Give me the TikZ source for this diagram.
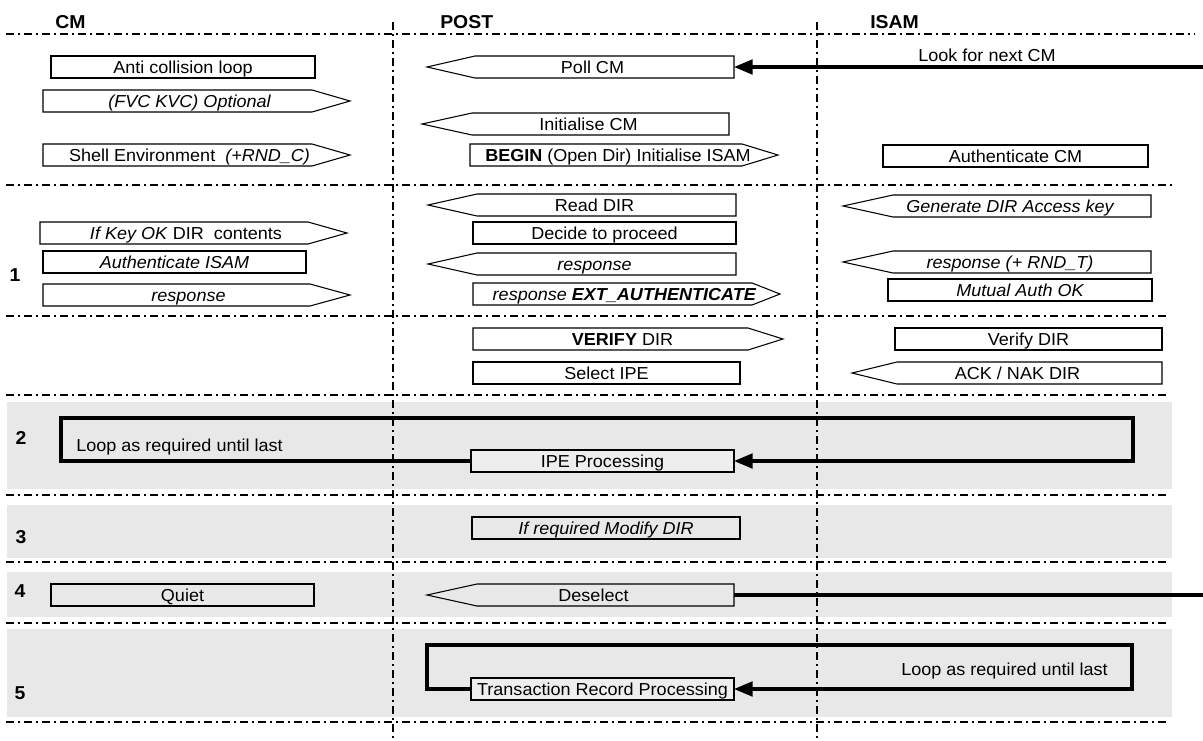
\documentclass[tikz,border=0pt]{standalone}
\usepackage{fontspec}
\setmainfont{Liberation Sans}[FakeStretch=1.04]
\usetikzlibrary{arrows.meta}
\definecolor{bandgray}{RGB}{232,232,232}
\definecolor{boxgray}{RGB}{238,238,238}
\tikzset{
  outl/.style={draw=black, line width=0.8pt},
  body/.style={minimum height=16.5pt, inner sep=0pt, outer sep=0pt, text height=9.6pt, text depth=0pt},
  txt/.style={inner sep=0pt, text height=9.6pt, text depth=0pt},
  sepline/.style={line width=1.1pt, dash pattern=on 6pt off 3pt on 1.5pt off 3pt},
  loopline/.style={line width=2.4pt},
  tiphead/.style={-{Triangle[length=14pt,width=11pt]}},
  band/.style={fill=bandgray, draw=none},
  hdr/.style={font=\bfseries\fontsize{14}{16}\selectfont, inner sep=0pt},
}
\newcommand\RBox[5]{%
  \node[outl, body, minimum width={(#3-#2)*0.75pt}] (#1) at ({(#2+#3)/2},#4) {#5};}
\newcommand\RArr[6]{%
  \node[body, minimum width={(#3-#2)*0.75pt}] (#1) at ({(#2+#3)/2},#5) {};
  \draw[outl] (#1.north west) -- (#1.north east) -- (#4,#5) -- (#1.south east) -- (#1.south west) -- cycle;
  \node[txt] (#1-t) at ([xshift=9pt]#1.center) {#6};}
\newcommand\LArr[6]{%
  \node[body, minimum width={(#4-#3)*0.75pt}] (#1) at ({(#3+#4)/2},#5) {};
  \draw[outl] (#1.north east) -- (#1.north west) -- (#2,#5) -- (#1.south west) -- (#1.south east) -- cycle;
  \node[txt] (#1-t) at ([xshift=-9pt]#1.center) {#6};}
\begin{document}
\begin{tikzpicture}[x=0.75pt,y=-0.75pt,font=\fontsize{13}{15}\selectfont]
\useasboundingbox (0,0) rectangle (1203,740);
% shaded bands
\fill[band] (7,402) rectangle (1172,489);
\fill[band] (7,505) rectangle (1172,558);
\fill[band] (7,572) rectangle (1172,617);
\fill[band] (7,629) rectangle (1172,717);
% separators
\draw[sepline] (6,34) -- (1195,34);
\draw[sepline] (6,185) -- (1172,185);
\draw[sepline] (6,316) -- (1168,316);
\draw[sepline] (6,395) -- (1170,395);
\draw[sepline] (6,495) -- (1170,495);
\draw[sepline] (6,562) -- (1170,562);
\draw[sepline] (6,623) -- (1170,623);
\draw[sepline] (6,722) -- (1170,722);
\draw[sepline] (393,22) -- (393,740);
\draw[sepline] (817,22) -- (817,740);
% headers
\node[hdr, anchor=west] (hcm) at (55,22) {CM};
\node[hdr, anchor=west] (hpost) at (440,22) {POST};
\node[hdr, anchor=west] (hisam) at (870,22) {ISAM};
\node[hdr] (n1) at (15,275) {1};
\node[hdr] (n2) at (21,438) {2};
\node[hdr] (n3) at (21,537) {3};
\node[hdr] (n4) at (20,591) {4};
\node[hdr] (n5) at (20,693) {5};
% initial rows
\RBox{anti}{51}{315}{67}{Anti collision loop}
\LArr{poll}{427}{475}{734}{67}{Poll CM}
\RArr{fvc}{43}{312}{350}{101}{\itshape (FVC KVC) Optional}
\LArr{initcm}{422}{472}{729}{124}{Initialise CM}
\RArr{shell}{43}{312}{350}{155}{Shell Environment~~\itshape(+RND\_C)}
\RArr{begin}{470}{742}{778}{155}{\textbf{BEGIN} (Open Dir) Initialise ISAM}
\RBox{authcm}{883}{1148}{156}{Authenticate CM}
\node[txt] (look) at (987,55) {Look for next CM};
\coordinate (r1) at (1203,67);
\draw[loopline, tiphead] (r1) -- (poll.east);
% section 1
\RArr{ifkey}{40}{308}{347}{233}{\textit{If Key OK} DIR~~contents}
\RBox{authisam}{43}{306}{262}{\itshape Authenticate ISAM}
\RArr{resp1}{43}{310}{350}{295}{\itshape response}
\LArr{readdir}{428}{477}{736}{205}{Read DIR}
\RBox{decide}{473}{736}{233}{Decide to proceed}
\LArr{resp2}{428}{477}{736}{264}{\itshape response}
\RArr{respext}{473}{752}{780}{294}{\textit{response \textbf{EXT\_AUTHENTICATE}}}
\LArr{genkey}{843}{893}{1151}{206}{\itshape Generate DIR Access key}
\LArr{resprnd}{843}{893}{1151}{262}{\itshape response (+ RND\_T)}
\RBox{mutual}{888}{1152}{290}{\itshape Mutual Auth OK}
% verify section
\RArr{verify}{473}{748}{783}{339}{\textbf{VERIFY} DIR}
\RBox{selipe}{473}{740}{373}{Select IPE}
\RBox{verifydir}{895}{1162}{339}{Verify DIR}
\LArr{ack}{852}{897}{1162}{373}{ACK / NAK DIR}
% section 2
\node[outl, body, fill=boxgray, minimum width={263*0.75pt}] (ipe) at (602.5,461) {IPE Processing};
\coordinate (l2a) at (61,418);
\coordinate (l2b) at (1133,418);
\draw[loopline, tiphead] (ipe.west) -| (l2a) -- (l2b) |- (ipe.east);
\node[txt, anchor=west] (loop2) at (76,445) {Loop as required until last};
% section 3
\RBox{modify}{472}{740}{528}{\itshape If required Modify DIR}
% section 4
\RBox{quiet}{51}{314}{595}{Quiet}
\LArr{desel}{427}{477}{734}{595}{Deselect}
\coordinate (r4) at (1203,595);
\draw[loopline] (desel.east) -- (r4);
% section 5
\node[outl, body, fill=boxgray, minimum width={263*0.75pt}] (trp) at (602.5,689) {Transaction Record Processing};
\coordinate (l5a) at (427,645);
\coordinate (l5b) at (1132,645);
\draw[loopline, tiphead] (trp.west) -| (l5a) -- (l5b) |- (trp.east);
\node[txt, anchor=east] (loop5) at (1108,669) {Loop as required until last};
\end{tikzpicture}
\end{document}
